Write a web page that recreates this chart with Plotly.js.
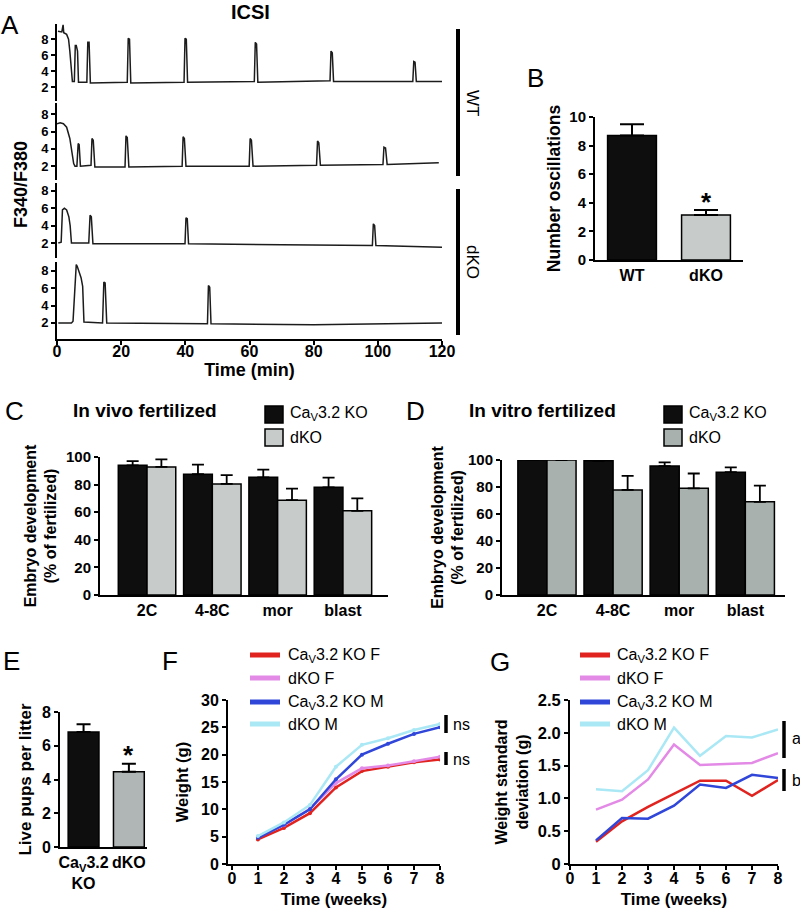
<!DOCTYPE html>
<html>
<head>
<meta charset="utf-8">
<script src="https://cdn.plot.ly/plotly-3.0.1.min.js"></script>
<style>html,body{margin:0;padding:0;background:#fff}#chart{width:800px;height:910px}</style>
</head>
<body>
<div id="chart"></div>
<script>
// ---------- Panel A: ICSI Ca2+ traces (time in min, F340/F380) ----------
const wt1T = [0.3,1.5,1.9,2.1,3.0,3.6,4.0,4.4,4.8,5.4,5.7,6.0,6.4,6.7,9.3,9.6,10.0,10.4,21.9,22.2,22.6,23.0,39.6,39.9,40.3,40.7,61.5,61.8,62.2,62.6,85.1,85.4,85.8,86.2,110.9,111.2,111.6,112.0,121];
const wt1V = [9.0,8.9,9.8,8.8,8.6,8.0,6.5,4.5,2.7,2.7,7.2,7.2,6.5,2.6,2.6,7.6,7.6,2.5,2.6,8.1,8.0,2.5,2.6,8.1,8.0,2.6,2.7,7.6,7.4,2.6,2.8,6.5,6.3,2.7,2.7,5.2,5.1,2.7,2.7];
const wt2T = [0,1.0,2.0,3.0,4.0,4.7,5.2,5.6,6.2,6.6,6.9,7.3,10.6,10.9,11.3,11.8,21.2,21.5,21.9,22.4,39.0,39.3,39.7,40.2,59.9,60.2,60.6,61.1,80.9,81.2,81.6,82.1,101.6,101.9,102.4,102.9,119];
const wt2V = [6.9,7.0,6.9,6.5,5.2,3.6,2.3,2.0,2.0,4.6,4.5,2.0,2.1,5.2,5.0,1.9,1.9,5.5,5.3,1.9,2.0,5.4,5.2,2.0,2.0,5.2,5.0,2.0,2.1,4.9,4.7,2.1,2.2,4.2,4.1,2.2,2.4];
const dko1T = [0.4,1.3,1.7,2.3,3.0,3.7,4.1,4.5,9.9,10.3,10.7,11.2,39.9,40.2,40.6,41.0,70,98.3,98.6,99.0,99.4,120.3];
const dko1V = [2.0,2.1,5.8,6.0,5.8,5.0,4.0,2.0,2.0,5.2,5.0,1.9,1.9,4.9,4.8,1.9,1.8,1.7,4.2,4.0,1.7,1.5];
const dko2T = [0.4,4.5,5.0,5.5,6.0,6.3,6.8,7.5,8.0,8.4,14.2,14.6,15.0,15.5,46.9,47.2,47.6,48.0,80,120];
const dko2V = [2.0,2.0,2.2,6.0,8.7,8.5,8.0,7.2,6.2,2.1,2.0,6.7,6.6,2.0,1.9,6.3,6.1,1.9,1.8,2.0];
const traceTicks = [2,4,6,8];
const timeTicks = [0,20,40,60,80,100,120];

// ---------- Panel B: number of oscillations ----------
const oscCats = ['WT','dKO'];
const oscMean = [8.7,3.15];
const oscErr  = [0.8,0.35];

// ---------- Panels C/D: embryo development ----------
const stages = ['2C','4-8C','mor','blast'];
const groupNames = ['Ca<sub>V</sub>3.2 KO','dKO'];
const vivoKO = [94,87.5,85.3,78];
const vivoKOErr = [3,7,5.6,7];
const vivoDKO = [92.8,80.5,68.7,61];
const vivoDKOErr = [5.5,6.3,8.4,9];
const vitroKO = [100,99.4,95.5,91];
const vitroKOErr = [0,0.6,2.8,3.5];
const vitroDKO = [100,77.8,79,69];
const vitroDKOErr = [0,10.4,11,12];

// ---------- Panel E: live pups per litter ----------
const litterCats = ['Ca<sub>V</sub>3.2<br>KO','dKO'];
const pups = [6.82,4.46];
const pupsErr = [0.46,0.47];

// ---------- Panels F/G: growth ----------
const weeks = [1,2,3,4,5,6,7,8];
const lineNames = ['Ca<sub>V</sub>3.2 KO F','dKO F','Ca<sub>V</sub>3.2 KO M','dKO M'];
const wKOF  = [4.5,6.6,9.3,14.0,17.0,17.8,18.6,19.1];
const wDKOF = [5.0,7.1,10.1,14.8,17.5,18.0,18.8,19.6];
const wKOM  = [4.8,7.2,10.0,15.5,20.0,22.0,23.8,25.0];
const wDKOM = [5.1,7.6,10.8,17.8,21.8,23.0,24.5,25.6];
const sdKOF  = [0.34,0.65,0.87,1.07,1.27,1.27,1.04,1.28];
const sdDKOF = [0.83,0.98,1.29,1.82,1.51,1.53,1.54,1.69];
const sdKOM  = [0.36,0.70,0.69,0.89,1.21,1.16,1.36,1.31];
const sdDKOM = [1.14,1.11,1.43,2.08,1.65,1.95,1.93,2.05];
const sdTicks = [0,0.5,1,1.5,2,2.5];
const sdTickText = ['0','0.5','1.0','1.5','2.0','2.5'];

// ---------- styling ----------
const FONT = 'Liberation Sans, Arial, Helvetica, sans-serif';
const BLACK = '#0e0e0e';
const GRAY_LIGHT = '#c7cccb';
const GRAY_D = '#a9b1ae';
const GRAY_E = '#b0b6b5';
const lineColors = ['#e0231e','#e38ae6','#2f46d9','#aae8f5'];
const W = 800, H = 910;
const px = v => v / W;
const py = v => 1 - v / H;
const dom = (top, bottom) => [py(bottom), py(top)];
const bold = (s) => ({family: FONT, size: s, color: '#000', weight: 'bold'});
const norm = (s) => ({family: FONT, size: s, color: '#000'});

function ax(extra) {
  return Object.assign({
    showline: true, linecolor: '#000', linewidth: 2,
    ticks: 'outside', ticklen: 4, tickwidth: 2, tickcolor: '#000',
    showgrid: false, zeroline: false, fixedrange: true,
    tickfont: bold(15)
  }, extra);
}

const traces = [];
// A
[[wt1T,wt1V,'y'],[wt2T,wt2V,'y2'],[dko1T,dko1V,'y3'],[dko2T,dko2V,'y4']].forEach((d,i)=>{
  traces.push({type:'scatter', mode:'lines', x:d[0], y:d[1], xaxis:'x', yaxis:d[2],
    line:{color:'#1c1c1c', width:1.5}, showlegend:false, hoverinfo:'skip', name:'trace '+(i+1)});
});
// B
const zeros = a => a.map(()=>0);
traces.push({type:'bar', x:oscCats, y:oscMean, xaxis:'x2', yaxis:'y5', width:0.66,
  marker:{color:[BLACK, GRAY_LIGHT], line:{color:'#000', width:1.5}},
  error_y:{type:'data', symmetric:false, array:oscErr, arrayminus:zeros(oscErr), color:'#000', thickness:2, width:12},
  showlegend:false, hoverinfo:'skip'});
// C
traces.push({type:'bar', name:groupNames[0], x:stages, y:vivoKO, xaxis:'x3', yaxis:'y6', width:0.44, offset:-0.44,
  marker:{color:BLACK, line:{color:'#000', width:1.5}},
  error_y:{type:'data', symmetric:false, array:vivoKOErr, arrayminus:zeros(vivoKOErr), color:'#000', thickness:1.8, width:6},
  showlegend:false, hoverinfo:'skip'});
traces.push({type:'bar', name:groupNames[1], x:stages, y:vivoDKO, xaxis:'x3', yaxis:'y6', width:0.44, offset:0,
  marker:{color:GRAY_LIGHT, line:{color:'#000', width:1.5}},
  error_y:{type:'data', symmetric:false, array:vivoDKOErr, arrayminus:zeros(vivoDKOErr), color:'#000', thickness:1.8, width:6},
  showlegend:false, hoverinfo:'skip'});
// D
traces.push({type:'bar', name:groupNames[0], x:stages, y:vitroKO, xaxis:'x4', yaxis:'y7', width:0.44, offset:-0.44,
  marker:{color:BLACK, line:{color:'#000', width:1.5}},
  error_y:{type:'data', symmetric:false, array:vitroKOErr, arrayminus:zeros(vitroKOErr), color:'#000', thickness:1.8, width:6},
  showlegend:false, hoverinfo:'skip'});
traces.push({type:'bar', name:groupNames[1], x:stages, y:vitroDKO, xaxis:'x4', yaxis:'y7', width:0.44, offset:0,
  marker:{color:GRAY_D, line:{color:'#000', width:1.5}},
  error_y:{type:'data', symmetric:false, array:vitroDKOErr, arrayminus:zeros(vitroDKOErr), color:'#000', thickness:1.8, width:6},
  showlegend:false, hoverinfo:'skip'});
// E
traces.push({type:'bar', x:litterCats, y:pups, xaxis:'x5', yaxis:'y8', width:0.68,
  marker:{color:[BLACK, GRAY_E], line:{color:'#000', width:1.5}},
  error_y:{type:'data', symmetric:false, array:pupsErr, arrayminus:zeros(pupsErr), color:'#000', thickness:2, width:7},
  showlegend:false, hoverinfo:'skip'});
// F
[wKOF,wDKOF,wKOM,wDKOM].forEach((v,i)=>{
  traces.push({type:'scatter', mode:'lines+markers', name:lineNames[i], x:weeks, y:v, xaxis:'x6', yaxis:'y9',
    line:{color:lineColors[i], width:2.5}, marker:{color:lineColors[i], size:4},
    showlegend:false, hoverinfo:'skip'});
});
// G
[sdKOF,sdDKOF,sdKOM,sdDKOM].forEach((v,i)=>{
  traces.push({type:'scatter', mode:'lines', name:lineNames[i], x:weeks, y:v, xaxis:'x7', yaxis:'y10',
    line:{color:lineColors[i], width:2.5}, showlegend:false, hoverinfo:'skip'});
});

// ---------- decorations ----------
const shapes = [];
const vline = (x, y0, y1, w) => shapes.push({type:'line', xref:'paper', yref:'paper', x0:px(x), x1:px(x), y0:py(y0), y1:py(y1), line:{color:'#000', width:w}});
const rect = (x0, y0, x1, y1, fill) => shapes.push({type:'rect', xref:'paper', yref:'paper', x0:px(x0), x1:px(x1), y0:py(y1), y1:py(y0), fillcolor:fill, line:{color:'#000', width:1.5}});
const hline = (x0, x1, y, color, w) => shapes.push({type:'line', xref:'paper', yref:'paper', x0:px(x0), x1:px(x1), y0:py(y), y1:py(y), line:{color:color, width:w}});

vline(458, 29, 176, 4);
vline(458, 189, 335, 4);
rect(265, 406, 283, 423, BLACK); rect(265, 429, 283, 446, GRAY_LIGHT);
rect(664, 406, 682, 423, BLACK); rect(664, 429, 682, 446, GRAY_D);
const legY = [655, 678, 702, 724];
legY.forEach((y,i)=>{ hline(250, 280, y, lineColors[i], 5); hline(580, 610, y, lineColors[i], 5); });
vline(446, 715, 733, 3.5);
vline(446, 752, 765, 3.5);
vline(784, 721, 758, 3.5);
vline(784, 769, 791, 3.5);

const annotations = [];
const txt = (x, y, text, font, opts) => annotations.push(Object.assign({xref:'paper', yref:'paper', x:px(x), y:py(y), text:text, font:font, showarrow:false, xanchor:'center', yanchor:'middle'}, opts||{}));

txt(250, 12, 'ICSI', bold(20));
[['A',10,25],['B',535,78],['C',14,411],['D',415,411],['E',11,661],['F',170,661],['G',500,662]].forEach(l=>txt(l[1], l[2], l[0], norm(26)));
txt(21, 185, 'F340/F380', bold(18), {textangle:-90});
txt(473, 103, 'WT', norm(17), {textangle:90});
txt(473, 262, 'dKO', norm(17), {textangle:90});
txt(145, 411, 'In vivo fertilized', bold(19));
txt(542, 411, 'In vitro fertilized', bold(19));
txt(288, 414, groupNames[0], norm(16), {xanchor:'left'});
txt(288, 437, groupNames[1], norm(16), {xanchor:'left'});
txt(687, 414, groupNames[0], norm(16), {xanchor:'left'});
txt(687, 437, groupNames[1], norm(16), {xanchor:'left'});
legY.forEach((y,i)=>{ txt(286, y, lineNames[i], norm(16), {xanchor:'left'}); txt(615, y, lineNames[i], norm(16), {xanchor:'left'}); });
txt(451, 724, 'ns', norm(16), {xanchor:'left'});
txt(451, 759, 'ns', norm(16), {xanchor:'left'});
txt(790, 738, 'a', norm(16), {xanchor:'left'});
txt(790, 780, 'b', norm(16), {xanchor:'left'});
annotations.push({xref:'x2', yref:'y5', x:1, y:4.05, text:'*', font:bold(26), showarrow:false, xanchor:'center', yanchor:'middle'});
annotations.push({xref:'x5', yref:'y8', x:1, y:5.45, text:'*', font:bold(26), showarrow:false, xanchor:'center', yanchor:'middle'});

const layout = {
  width: W, height: H,
  margin: {l:0, r:0, t:0, b:0, pad:0},
  paper_bgcolor: '#fff', plot_bgcolor: 'rgba(0,0,0,0)',
  barmode: 'overlay',
  font: {family: FONT, color: '#000'},
  showlegend: false,
  // A
  xaxis: ax({domain:[px(57), px(442)], range:[0,120], anchor:'y4', tickvals:timeTicks, tickfont:bold(16), ticklabelstandoff:-7,
    title:{text:'Time (min)', font:bold(18), standoff:0}}),
  yaxis: ax({domain:dom(24,101), range:[0.25,9.9], anchor:'x', tickvals:traceTicks, tickfont:bold(13)}),
  yaxis2: ax({domain:dom(103,180), range:[0.4,9.3], anchor:'x', tickvals:traceTicks, tickfont:bold(13)}),
  yaxis3: ax({domain:dom(183,258), range:[0.27,8.9], anchor:'x', tickvals:traceTicks, tickfont:bold(13)}),
  yaxis4: ax({domain:dom(262,339), range:[0.15,9.0], anchor:'x', tickvals:traceTicks, tickfont:bold(13)}),
  // B
  xaxis2: ax({domain:[px(595), px(743)], range:[-0.5,1.5], anchor:'y5', type:'category', ticks:'', tickfont:bold(16)}),
  yaxis5: ax({domain:dom(117,260), range:[0,10], anchor:'x2', dtick:2, tickfont:bold(15),
    title:{text:'Number oscillations', font:bold(17.5), standoff:4}}),
  // C
  xaxis3: ax({domain:[px(100), px(388)], range:[-0.72,3.69], anchor:'y6', type:'category', ticks:'', tickfont:bold(16)}),
  yaxis6: ax({domain:dom(457,595), range:[0,100], anchor:'x3', dtick:20,
    title:{text:'Embryo development<br>(% of fertilized)', font:bold(16), standoff:5}}),
  // D
  xaxis4: ax({domain:[px(502), px(785)], range:[-0.68,3.6], anchor:'y7', type:'category', ticks:'', tickfont:bold(16)}),
  yaxis7: ax({domain:dom(460,595), range:[0,100], anchor:'x4', dtick:20,
    title:{text:'Embryo development<br>(% of fertilized)', font:bold(16), standoff:0}}),
  // E
  xaxis5: ax({domain:[px(60), px(147)], range:[-0.52,1.4], anchor:'y8', type:'category', ticks:'', tickfont:bold(16)}),
  yaxis8: ax({domain:dom(712,847), range:[0,8], anchor:'x5', dtick:2, tickfont:bold(16),
    title:{text:'Live pups per litter', font:bold(17), standoff:6}}),
  // F
  xaxis6: ax({domain:[px(228), px(440)], range:[-0.15,8], anchor:'y9', dtick:1, tick0:0, tickfont:bold(16), ticklabelstandoff:-5,
    title:{text:'Time (weeks)', font:bold(17), standoff:7}}),
  yaxis9: ax({domain:dom(700,864), range:[0,30], anchor:'x6', dtick:5, tickfont:bold(16),
    title:{text:'Weight (g)', font:bold(16.5), standoff:8}}),
  // G
  xaxis7: ax({domain:[px(570), px(778)], range:[0,8], anchor:'y10', dtick:1, tick0:0, tickfont:bold(16), ticklabelstandoff:-5,
    title:{text:'Time (weeks)', font:bold(17), standoff:7}}),
  yaxis10: ax({domain:dom(700,864), range:[0,2.5], anchor:'x7', tickvals:sdTicks, ticktext:sdTickText, tickfont:bold(16.5),
    title:{text:'Weight standard<br>deviation (g)', font:bold(16), standoff:5}}),
  shapes: shapes,
  annotations: annotations
};

Plotly.newPlot('chart', traces, layout, {staticPlot:true, displayModeBar:false});
</script>
</body>
</html>
